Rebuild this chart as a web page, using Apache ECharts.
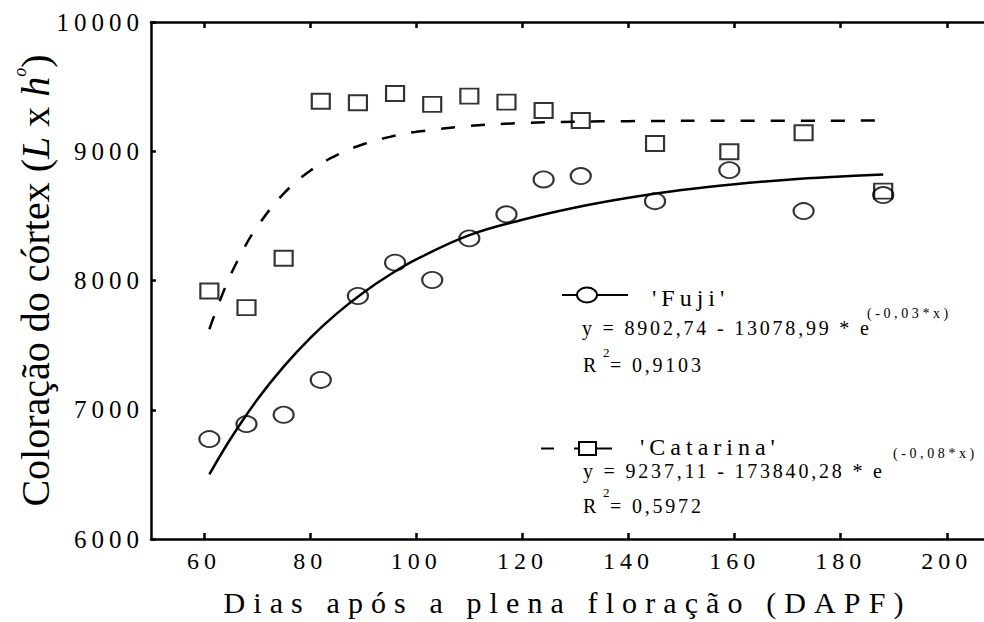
<!DOCTYPE html>
<html>
<head>
<meta charset="utf-8">
<title>Coloração do córtex</title>
<script src="https://cdn.jsdelivr.net/npm/echarts@6/dist/echarts.min.js"></script>
<style>
  html, body { margin: 0; padding: 0; background: #fff; }
  #chart { width: 984px; height: 622px; }
</style>
</head>
<body>
<div id="chart"></div>
<script>
// dias após a plena floração (DAPF)
const dias = [61, 68, 75, 82, 89, 96, 103, 110, 117, 124, 131, 145, 159, 173, 188];
const fuji = [6773, 6889, 6961, 7231, 7880, 8138, 8004, 8326, 8512, 8782, 8808, 8614, 8854, 8537, 8661];
const catarina = [7919, 7790, 8172, 9387, 9375, 9447, 9362, 9426, 9380, 9315, 9238, 9060, 8996, 9143, 8692];

// curvas ajustadas
const diasFuji = [61, 65, 70, 75, 80, 85, 90, 95, 100, 110, 120, 130, 140, 150, 160, 170, 180, 188];
const curvaFuji = [6500, 6776, 7077, 7334, 7555, 7744, 7905, 8044, 8163, 8351, 8470, 8565, 8640, 8700, 8745, 8780, 8805, 8821];
const diasCat = [61, 64, 67, 70, 75, 80, 85, 90, 95, 100, 110, 120, 130, 140, 160, 188];
const curvaCat = [7623, 7948, 8208, 8415, 8672, 8849, 8970, 9054, 9111, 9150, 9196, 9218, 9228, 9233, 9236, 9237];

const xTicks = [60, 80, 100, 120, 140, 160, 180, 200];

const fonte = 'Liberation Serif';
const pares = (xs, ys) => xs.map((x, i) => [x, ys[i]]);

const eixo = { color: '#000', width: 2.5 };
const marcador = { color: 'rgba(0,0,0,0)', borderColor: '#000', borderWidth: 2 };

// espaçamento entre letras por tamanho de fonte (em)
const espaco = { 24: 0.21, 25: 0.2, 30: 0.27, 20: 0.14, 14: 0.26 };

const txt = (text, x, y, size) => ({
  type: 'text', x: x, y: y, z: 10,
  style: { text: text, fontFamily: fonte, fontSize: size, fill: '#000', align: 'left', verticalAlign: 'middle' }
});

const chart = echarts.init(document.getElementById('chart'), null, { renderer: 'svg' });

chart.on('finished', () => {
  document.querySelectorAll('#chart text').forEach(t => {
    const fs = parseFloat(getComputedStyle(t).fontSize);
    const k = espaco[Math.round(fs)];
    if (k) t.style.letterSpacing = (k * fs).toFixed(1) + 'px';
  });
});

chart.setOption({
  animation: false,
  backgroundColor: '#fff',
  textStyle: { fontFamily: fonte },
  grid: { left: 151, right: 0, top: 22, bottom: 82 },
  xAxis: [
    {
      type: 'value', min: 50, max: 207, position: 'bottom',
      axisLine: { onZero: false, lineStyle: eixo },
      axisTick: { inside: true, length: 6, customValues: xTicks, lineStyle: eixo },
      axisLabel: { customValues: xTicks, color: '#000', fontFamily: fonte, fontSize: 24, margin: 10 },
      splitLine: { show: false },
      name: 'Dias após a plena floração (DAPF)',
      nameLocation: 'middle', nameGap: 48,
      nameTextStyle: { color: '#000', fontFamily: fonte, fontSize: 30 }
    },
    {
      type: 'value', min: 50, max: 207, position: 'top',
      axisLine: { onZero: false, lineStyle: eixo },
      axisTick: { inside: true, length: 6, customValues: xTicks, lineStyle: eixo },
      axisLabel: { show: false },
      splitLine: { show: false }
    }
  ],
  yAxis: {
    type: 'value', min: 6000, max: 10000, interval: 1000,
    axisLine: { show: true, onZero: false, lineStyle: eixo },
    axisTick: { show: true, inside: true, length: 5, lineStyle: eixo },
    axisLabel: { color: '#000', fontFamily: fonte, fontSize: 25, margin: 7, formatter: v => String(v) },
    splitLine: { show: false },
    name: 'Coloração do córtex ({i|L} x {i|h}{s|o})',
    nameLocation: 'middle', nameGap: 92, nameRotate: 90,
    nameTextStyle: {
      color: '#000', fontFamily: fonte, fontSize: 40,
      rich: {
        i: { fontFamily: fonte, fontSize: 40, fontStyle: 'italic', color: '#000' },
        s: { fontFamily: fonte, fontSize: 18, fontStyle: 'italic', color: '#000', padding: [0, 0, 30, 0] }
      }
    }
  },
  series: [
    {
      name: 'Catarina ajuste', type: 'line', data: pares(diasCat, curvaCat),
      smooth: 0.4, symbol: 'none', silent: true,
      lineStyle: { color: '#000', width: 2.5, type: [14, 16] }
    },
    {
      name: 'Fuji ajuste', type: 'line', data: pares(diasFuji, curvaFuji),
      smooth: 0.4, symbol: 'none', silent: true,
      lineStyle: { color: '#000', width: 2.5 }
    },
    {
      name: 'Catarina', type: 'scatter', data: pares(dias, catarina),
      symbol: 'rect', symbolSize: [18, 15], itemStyle: marcador
    },
    {
      name: 'Fuji', type: 'scatter', data: pares(dias, fuji),
      symbol: 'circle', symbolSize: [20, 16], itemStyle: marcador
    }
  ],
  graphic: [
    // legenda 'Fuji'
    { type: 'line', shape: { x1: 562, y1: 295, x2: 628, y2: 295 }, style: { stroke: '#000', lineWidth: 2 } },
    { type: 'ellipse', shape: { cx: 587, cy: 295, rx: 10, ry: 7.5 }, style: { fill: '#fff', stroke: '#000', lineWidth: 2 } },
    txt("'Fuji'", 652, 298, 24),
    txt('y = 8902,74 - 13078,99 * e', 582, 328, 20),
    txt('(-0,03*x)', 867, 313, 14),
    txt('R', 583, 365, 20),
    txt('2', 603, 352, 13),
    txt('= 0,9103', 610, 365, 20),
    // legenda 'Catarina'
    { type: 'line', shape: { x1: 541, y1: 448.5, x2: 554, y2: 448.5 }, style: { stroke: '#000', lineWidth: 2 } },
    { type: 'line', shape: { x1: 574, y1: 448.5, x2: 612, y2: 448.5 }, style: { stroke: '#000', lineWidth: 2 } },
    { type: 'rect', shape: { x: 579, y: 442, width: 17, height: 13 }, style: { fill: '#fff', stroke: '#000', lineWidth: 2 } },
    txt("'Catarina'", 640, 447, 24),
    txt('y = 9237,11 - 173840,28 * e', 583, 471, 20),
    txt('(-0,08*x)', 893, 453, 14),
    txt('R', 583, 506, 20),
    txt('2', 603, 492, 13),
    txt('= 0,5972', 610, 506, 20)
  ]
});
</script>
</body>
</html>
